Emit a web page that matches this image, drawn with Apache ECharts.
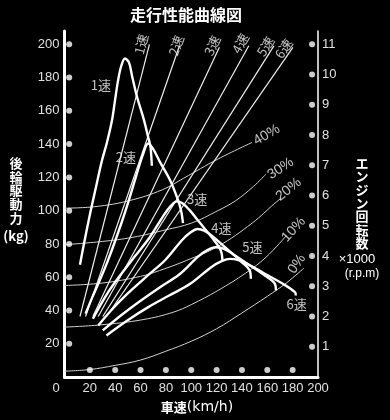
<!DOCTYPE html>
<html><head><meta charset="utf-8">
<script src="https://cdn.jsdelivr.net/npm/echarts/dist/echarts.min.js"></script>
<style>html,body{margin:0;padding:0;background:#000}#c{width:390px;height:420px}</style>
</head><body><div id="c"></div>
<script>
// ---- data (speed km/h, force kg / engine rpm x1000) ----
const speedTicks = [20, 40, 60, 80, 100, 120, 140, 160, 180];
const forceTicks = [20, 40, 60, 80, 100, 120, 140, 160, 180, 200];
const rpmTicks = [1, 2, 3, 4, 5, 6, 7, 8, 9, 10, 11];

const gearNames = ['1速', '2速', '3速', '4速', '5速', '6速'];
const gradeNames = ['0%', '10%', '20%', '30%', '40%'];

// driving force curves per gear [speed, kg]
const force1 = [[12.2,67.5],[15.2,79.5],[20,97.5],[24.5,113],[29.5,130],[33.5,141],[37.4,154],[39.8,166],[42.2,178],[44.6,186.5],[47.7,191.5],[50.9,189],[53.3,181],[57.2,168.5],[62.5,155],[65.9,144.5],[67.8,138.5],[68.9,127]];
const force2 = [[16.6,38],[22,48],[28,58.5],[34,69.5],[41,84],[49,102],[57,122],[62,134],[66,140.4],[70,137],[75.5,129],[83.5,118],[89.5,106.5],[92,100],[93.5,92.5]];
const force3 = [[22.4,35],[33.6,50],[44.8,62],[56,73],[67.3,84],[78.5,97.5],[84.1,103],[88.6,105.6],[93,104.5],[98.7,100.3],[106.5,93],[117.7,82.5],[123.3,76],[124.6,70]];
const force4 = [[26.6,31],[39.8,42.5],[53.1,52.5],[66.4,61.5],[79.7,70.5],[93,82.5],[99.6,87],[104.9,89],[110.2,88],[116.9,84.5],[126.2,78.3],[139.4,69.4],[146.1,64],[147,59]];
const force5 = [[30.2,28],[45.2,37.4],[60.3,46],[75.4,54],[90.5,61.6],[105.6,72.5],[113.1,76.4],[119.2,78],[125.2,77.2],[132.7,74],[143.3,68.6],[158.4,60.8],[165.9,56.2],[166.8,52]];
const force6 = [[33.1,25],[49.6,34],[66.1,42],[82.6,49],[99.2,56],[115.7,66],[124,69.6],[130.6,71],[137.2,70.3],[145.5,67.5],[157,62.5],[173.6,55.4],[181.8,51],[182.5,49]];

// gear lines [speed, rpm x1000]
const gear1 = [[12.2,2],[67,11]];
const gear2 = [[16.6,2],[90.7,10.95]];
const gear3 = [[22.4,2],[122.2,10.9]];
const gear4 = [[26.6,2],[145.4,10.95]];
const gear5 = [[30.2,2],[165.2,10.95]];
const gear6 = [[33.1,2],[180.2,10.9]];

// running resistance per grade [speed, kg]
const res0 = [[0,3.5],[20,4.5],[40,7],[60,10.2],[80,15.5],[100,21.5],[120,29],[140,38.5],[160,48.5],[175,56.5],[189,65.5]];
const res10 = [[0,30],[28,31.3],[62,34.5],[86,39],[100,43.5],[121,52],[143,62.5],[159,72],[175,85]];
const res20 = [[0,55],[30,56.5],[60,60.5],[75,64],[96,70],[121,78.5],[148,92.5],[166,104.5],[171,107.5]];
const res30 = [[0,79.5],[30,81.5],[54,84],[80,88.5],[100,92.5],[121,100],[135,106],[149,114.5],[159,122]];
const res40 = [[0,101.5],[24,102.4],[51,106],[77,112.5],[94,119.5],[121,131],[148,141]];

// ---- layout (label anchors in data units, styles) ----
const layout = {
  leftDotSpeed: 3.7, bottomDotForce: 4.2, rightDotSpeed: 195.3,
  forceLabelPos: [[28.7,175.5],[48.5,132.5],[104.7,107],[123.8,89.5],[148.3,78],[183.2,44]],
  gearTopLabelPos: [[60.4,11.0],[88.1,10.96],[116.6,10.96],[138.8,11.03],[158.6,10.93],[172.9,10.86]],
  gearTopRot: [76, 71, 65, 61, 58, 55],
  gradeLabelPos: [[183.4,67.9],[180.8,88.6],[176.8,112.7],[170.5,125.3],[159.6,145.5]],
  gradeRot: [55, 47, 38, 33, 30]
};

const CJK = '"Noto Sans CJK JP", sans-serif';
const NUM = '"Liberation Sans", Arial, sans-serif';
const LBL = '#e0e0e0';

const forces = [force1, force2, force3, force4, force5, force6];
const gears = [gear1, gear2, gear3, gear4, gear5, gear6];
const grades = [res0, res10, res20, res30, res40];

const series = [];
grades.forEach((d) => series.push({type:'line', data:d, yAxisIndex:0, symbol:'none', smooth:0.4, silent:true,
  lineStyle:{color:'#d0d0d0', width:1}, z:2}));
gears.forEach((d) => series.push({type:'line', data:d, yAxisIndex:1, symbol:'none', silent:true,
  lineStyle:{color:'#eeeeee', width:1.2}, z:3}));
forces.forEach((d) => series.push({type:'line', data:d, yAxisIndex:0, symbol:'none', smooth:0.35, silent:true,
  lineStyle:{color:'#ffffff', width:2.4}, z:4}));

const dotStyle = {type:'scatter', symbol:'circle', symbolSize:6, itemStyle:{color:'#fff'}, silent:true, z:5};
series.push(Object.assign({}, dotStyle, {yAxisIndex:0, data: forceTicks.map(v => [layout.leftDotSpeed, v])}));
series.push(Object.assign({}, dotStyle, {yAxisIndex:0, data: speedTicks.map(s => [s, layout.bottomDotForce])}));
series.push(Object.assign({}, dotStyle, {yAxisIndex:1, data: rpmTicks.map(r => [layout.rightDotSpeed, r])}));

const txt = {show:true, position:'inside', color:'#f0f0f0', fontSize:13, fontFamily:CJK};
function labelSeries(yIdx, items) {
  return {type:'scatter', yAxisIndex:yIdx, symbolSize:1, itemStyle:{color:'rgba(0,0,0,0)'}, silent:true, z:6,
    data: items};
}
series.push(labelSeries(0, gearNames.map((n,i) => ({value: layout.forceLabelPos[i], label: Object.assign({}, txt, {formatter:n})}))));
series.push(labelSeries(1, gearNames.map((n,i) => ({value: layout.gearTopLabelPos[i], label: Object.assign({}, txt, {formatter:n, rotate: layout.gearTopRot[i]})}))));
series.push(labelSeries(0, gradeNames.map((n,i) => ({value: layout.gradeLabelPos[i], label: Object.assign({}, txt, {formatter:n, fontFamily:NUM, fontSize:14, rotate: layout.gradeRot[i]})}))));

const option = {
  backgroundColor:'#000',
  animation:false,
  title:{text:'走行性能曲線図', left:130, top:7, padding:0,
    textStyle:{color:'#fff', fontSize:16, fontWeight:'bold', fontFamily:CJK}},
  grid:{left:64.5, right:72, top:31, bottom:43, containLabel:false, outerBoundsMode:'none'},
  xAxis:{type:'value', min:0, max:200, interval:20,
    axisLine:{show:true, onZero:false, lineStyle:{color:'#fff', width:3}},
    axisTick:{show:false}, splitLine:{show:false},
    axisLabel:{color:LBL, fontSize:13, fontFamily:NUM, margin:5,
      formatter: v => v === 0 ? '{z|0}' : String(v),
      rich:{z:{color:LBL, fontSize:13, fontFamily:NUM, padding:[0,17,0,0]}}}},
  yAxis:[
    {type:'value', position:'left', min:0, max:208, interval:20,
      axisLine:{show:true, onZero:false, lineStyle:{color:'#fff', width:3}},
      axisTick:{show:false}, splitLine:{show:false},
      axisLabel:{color:LBL, fontSize:13, fontFamily:NUM, margin:5,
        formatter: v => (v > 0 && v <= 200 && v % 20 === 0) ? String(v) : ''}},
    {type:'value', position:'right', min:0, max:11.44, interval:1, alignTicks:false,
      axisLine:{show:true, onZero:false, lineStyle:{color:'#fff', width:1.5}},
      axisTick:{show:false}, splitLine:{show:false},
      axisLabel:{color:LBL, fontSize:13, fontFamily:NUM, margin:4,
        formatter: v => (v >= 1 && v <= 11 && Math.abs(v - Math.round(v)) < 1e-6) ? String(Math.round(v)) : ''}}
  ],
  graphic:[
    {type:'text', x:16, y:156.5, silent:true, style:{text:'後\n輪\n駆\n動\n力', fill:'#fff', font:'bold 13px ' + CJK, lineHeight:13.6, textAlign:'center', textVerticalAlign:'top'}},
    {type:'text', x:16, y:236, silent:true, style:{text:'(kg)', fill:'#fff', font:'bold 13px ' + CJK, textAlign:'center', textVerticalAlign:'middle'}},
    {type:'text', x:362, y:156.5, silent:true, style:{text:'エ\nン\nジ\nン\n回\n転\n数', fill:'#fff', font:'bold 13px ' + CJK, lineHeight:13.3, textAlign:'center', textVerticalAlign:'top'}},
    {type:'text', x:357, y:259, silent:true, style:{text:'×1000', fill:'#fff', font:'13px ' + NUM, textAlign:'center', textVerticalAlign:'middle'}},
    {type:'text', x:362, y:274, silent:true, style:{text:'(r.p.m)', fill:'#fff', font:'12px ' + NUM, textAlign:'center', textVerticalAlign:'middle'}},
    {type:'text', x:197, y:407, silent:true, style:{text:'{a|車速}{b|(km/h)}', textAlign:'center', textVerticalAlign:'middle',
      rich:{a:{fill:'#fff', font:'bold 13px ' + CJK}, b:{fill:'#fff', font:'14px "DejaVu Sans", sans-serif'}}}}
  ],
  series: series
};

const chart = echarts.init(document.getElementById('c'), null, {renderer:'canvas'});
chart.setOption(option);
</script>
</body></html>
